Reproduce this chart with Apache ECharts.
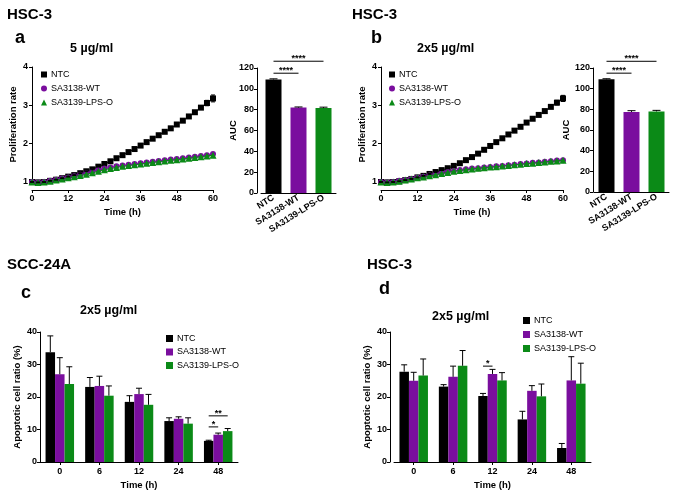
<!DOCTYPE html>
<html>
<head>
<meta charset="utf-8">
<script src="https://cdn.jsdelivr.net/npm/echarts@6/dist/echarts.min.js"></script>
<style>
html,body{margin:0;padding:0;background:#fff}
#chart{width:685px;height:501px}
</style>
</head>
<body>
<div id="chart"></div>
<script>
// colours
var cNTC = '#000000';
var cWT = '#7a0e9e';
var cLPS = '#0b8a17';
var font = 'Liberation Sans, Arial, sans-serif';

// proliferation, time in hours
var hours = [0,2,4,6,8,10,12,14,16,18,20,22,24,26,28,30,32,34,36,38,40,42,44,46,48,50,52,54,56,58,60];
var ntcA = [1.00,0.99,1.00,1.03,1.06,1.10,1.14,1.18,1.23,1.28,1.33,1.40,1.47,1.54,1.62,1.70,1.78,1.86,1.95,2.04,2.13,2.22,2.31,2.40,2.50,2.60,2.71,2.82,2.94,3.06,3.18];
var ntcAErr = [0.01,0.01,0.01,0.01,0.01,0.01,0.01,0.01,0.01,0.01,0.01,0.01,0.02,0.02,0.02,0.02,0.02,0.02,0.02,0.02,0.02,0.03,0.03,0.03,0.03,0.03,0.03,0.04,0.04,0.07,0.09];
var wtA = [1.00,0.99,1.00,1.03,1.06,1.09,1.12,1.15,1.19,1.23,1.27,1.31,1.35,1.38,1.41,1.43,1.45,1.47,1.49,1.51,1.53,1.55,1.57,1.59,1.60,1.62,1.64,1.66,1.68,1.70,1.73];
var lpsA = [1.00,0.99,1.00,1.02,1.05,1.08,1.11,1.14,1.17,1.20,1.24,1.28,1.32,1.35,1.38,1.41,1.43,1.45,1.47,1.49,1.51,1.53,1.55,1.57,1.58,1.60,1.62,1.64,1.66,1.68,1.70];

var ntcB = [1.00,0.99,1.00,1.02,1.05,1.08,1.12,1.16,1.21,1.26,1.31,1.36,1.42,1.49,1.57,1.65,1.74,1.84,1.94,2.04,2.14,2.24,2.34,2.44,2.55,2.65,2.75,2.85,2.96,3.07,3.18];
var ntcBErr = [0.01,0.01,0.01,0.01,0.01,0.01,0.01,0.01,0.01,0.01,0.01,0.01,0.02,0.02,0.02,0.02,0.02,0.02,0.02,0.02,0.02,0.03,0.03,0.03,0.03,0.03,0.03,0.04,0.04,0.06,0.08];
var wtB = [1.00,0.99,1.00,1.03,1.05,1.08,1.11,1.14,1.17,1.20,1.23,1.26,1.29,1.31,1.33,1.35,1.36,1.38,1.39,1.41,1.42,1.44,1.45,1.47,1.48,1.50,1.51,1.53,1.54,1.56,1.57];
var lpsB = [1.00,0.99,1.00,1.02,1.05,1.08,1.11,1.13,1.16,1.19,1.22,1.25,1.28,1.30,1.32,1.34,1.36,1.37,1.39,1.40,1.42,1.43,1.45,1.46,1.48,1.49,1.51,1.52,1.54,1.55,1.57];

// AUC
var groups = ['NTC', 'SA3138-WT', 'SA3139-LPS-O'];
var aucA = [109, 82, 81.5];
var aucAErr = [0.6, 0.6, 0.9];
var aucB = [109, 77.5, 78];
var aucBErr = [0.6, 1.2, 1.0];

// apoptosis
var times = ['0', '6', '12', '24', '48'];
var ntcC = [33.8, 23.1, 18.5, 12.6, 6.5];
var ntcCErr = [5.0, 2.9, 1.9, 1.0, 0.2];
var wtC = [27.0, 23.4, 20.9, 13.3, 8.4];
var wtCErr = [5.1, 3.0, 1.8, 0.6, 0.5];
var lpsC = [24.0, 20.4, 17.6, 11.8, 9.5];
var lpsCErr = [5.3, 3.0, 3.2, 1.8, 0.8];

var ntcD = [27.8, 23.2, 20.3, 13.1, 4.3];
var ntcDErr = [2.1, 0.6, 0.8, 2.5, 1.4];
var wtD = [25.0, 26.2, 27.1, 21.9, 25.1];
var wtDErr = [2.6, 3.3, 1.4, 1.6, 7.3];
var lpsD = [26.6, 29.6, 25.1, 20.2, 24.1];
var lpsDErr = [5.1, 4.7, 2.4, 3.8, 6.3];

// brackets: [cat1, bar1, cat2, bar2, y], stars
var bracketsA = [[0,0,1,0,115], [0,0,2,0,126.5]];
var starsA = ['****', '****'];
var bracketsB = [[0,0,1,0,115], [0,0,2,0,126.5]];
var starsB = ['****', '****'];
var bracketsC = [[4,-1,4,0,10.8], [4,-1,4,1,14.2]];
var starsC = ['*', '**'];
var bracketsD = [[2,-1,2,0,29.5]];
var starsD = ['*'];

function zip3(a, b, c) {
	var out = [];
	for (var i = 0; i < a.length; i++) out.push([a[i], b[i], c[i]]);
	return out;
}
function zipCat(v, e) {
	var out = [];
	for (var i = 0; i < v.length; i++) out.push([i, v[i], e[i]]);
	return out;
}

// up+down error bar on value axis
function lineErr(params, api) {
	var x = api.value(0), v = api.value(1), e = api.value(2);
	var t = api.coord([x, v + e]), b = api.coord([x, v - e]);
	var w = 2;
	return {
		type: 'group',
		children: [
			{type: 'line', shape: {x1: t[0], y1: t[1], x2: b[0], y2: b[1]}, style: {stroke: '#000', lineWidth: 1}},
			{type: 'line', shape: {x1: t[0] - w, y1: t[1], x2: t[0] + w, y2: t[1]}, style: {stroke: '#000', lineWidth: 1}},
			{type: 'line', shape: {x1: b[0] - w, y1: b[1], x2: b[0] + w, y2: b[1]}, style: {stroke: '#000', lineWidth: 1}}
		]
	};
}

// upward error bar on grouped bars, offset in px from category centre
function barErr(offset, cap) {
	return function(params, api) {
		var c = api.value(0), v = api.value(1), e = api.value(2);
		var t = api.coord([c, v + e]), b = api.coord([c, v]);
		var x = t[0] + offset;
		return {
			type: 'group',
			children: [
				{type: 'line', shape: {x1: x, y1: t[1], x2: x, y2: b[1]}, style: {stroke: '#000', lineWidth: 1}},
				{type: 'line', shape: {x1: x - cap, y1: t[1], x2: x + cap, y2: t[1]}, style: {stroke: '#000', lineWidth: 1}}
			]
		};
	};
}

function bracket(stars, bw) {
	return function(params, api) {
		var c1 = api.value(0), o1 = api.value(1), c2 = api.value(2), o2 = api.value(3), y = api.value(4);
		var p1 = api.coord([c1, y]), p2 = api.coord([c2, y]);
		var x1 = p1[0] + o1 * bw, x2 = p2[0] + o2 * bw;
		return {
			type: 'group',
			children: [
				{type: 'line', shape: {x1: x1, y1: p1[1], x2: x2, y2: p1[1]}, style: {stroke: '#000', lineWidth: 1}},
				{type: 'text', style: {text: stars[params.dataIndex], x: (x1 + x2) / 2, y: p1[1] + 2,
					textAlign: 'center', textVerticalAlign: 'bottom', font: 'bold 9px ' + font, fill: '#000'}}
			]
		};
	};
}

function bracketData(list) {
	return list.map(function(r) { return r.slice(); });
}

var labelStyle = {color: '#000', fontSize: 9, fontWeight: 'bold', fontFamily: font};
var nameStyle = {color: '#000', fontSize: 9.5, fontWeight: 'bold', fontFamily: font};
var axisLine = {show: true, lineStyle: {color: '#000', width: 1}};
var axisTick = {show: true, length: 3, lineStyle: {color: '#000'}};

function timeAxis(g) {
	return {
		type: 'value', gridIndex: g, min: 0, max: 60, interval: 12, offset: 8,
		axisLine: axisLine, axisTick: axisTick, splitLine: {show: false},
		axisLabel: Object.assign({margin: 4}, labelStyle),
		name: 'Time (h)', nameLocation: 'middle', nameGap: 17, nameTextStyle: nameStyle
	};
}
function prolifAxis(g) {
	return {
		type: 'value', gridIndex: g, min: 1, max: 4, interval: 1,
		axisLine: axisLine, axisTick: axisTick, splitLine: {show: false},
		axisLabel: Object.assign({margin: 4}, labelStyle),
		name: 'Proliferation rate', nameLocation: 'middle', nameGap: 14, nameTextStyle: nameStyle
	};
}
function groupAxis(g) {
	return {
		type: 'category', gridIndex: g, data: groups,
		axisLine: axisLine, axisTick: {show: false},
		axisLabel: Object.assign({rotate: 32, margin: 4, interval: 0}, labelStyle)
	};
}
function aucAxis(g, off, gap, moveOverlap) {
	return {
		type: 'value', gridIndex: g, min: 0, max: 120, interval: 20, offset: off,
		axisLine: axisLine, axisTick: axisTick, splitLine: {show: false},
		axisLabel: Object.assign({margin: 3}, labelStyle),
		name: 'AUC', nameLocation: 'middle', nameGap: gap, nameMoveOverlap: moveOverlap,
		nameTextStyle: nameStyle
	};
}
function timeCatAxis(g) {
	return {
		type: 'category', gridIndex: g, data: times,
		axisLine: axisLine, axisTick: {show: true, length: 3, alignWithLabel: true, lineStyle: {color: '#000'}},
		axisLabel: Object.assign({margin: 5}, labelStyle),
		name: 'Time (h)', nameLocation: 'middle', nameGap: 18, nameTextStyle: nameStyle
	};
}
function apoAxis(g, off) {
	return {
		type: 'value', gridIndex: g, min: 0, max: 40, interval: 10, offset: off,
		axisLine: axisLine, axisTick: axisTick, splitLine: {show: false},
		axisLabel: Object.assign({margin: 3}, labelStyle),
		name: 'Apoptotic cell ratio (%)', nameLocation: 'middle', nameGap: 18, nameTextStyle: nameStyle
	};
}

function lineSeries(name, g, vals, color, symbol, z) {
	var d = [];
	for (var i = 0; i < hours.length; i++) d.push([hours[i], vals[i]]);
	return {
		name: name, type: 'line', xAxisIndex: g, yAxisIndex: g, data: d,
		symbol: symbol, symbolSize: symbol === 'triangle' ? 7 : 6, clip: false, z: z,
		lineStyle: {color: color, width: 1}, itemStyle: {color: color}
	};
}
function aucSeries(g, vals) {
	var cols = [cNTC, cWT, cLPS];
	return {
		type: 'bar', xAxisIndex: g, yAxisIndex: g, barWidth: 16,
		data: vals.map(function(v, i) { return {value: v, itemStyle: {color: cols[i]}}; })
	};
}
function apoBar(name, g, vals, color) {
	return {
		name: name, type: 'bar', xAxisIndex: g, yAxisIndex: g, data: vals,
		barWidth: 9.5, barGap: '0%', itemStyle: {color: color}
	};
}
function errSeries(g, data, fn) {
	return {type: 'custom', xAxisIndex: g, yAxisIndex: g, data: data, renderItem: fn, z: 5, silent: true};
}

function title(text, left, top, size) {
	return {text: text, left: left, top: top, padding: 0,
		textStyle: {fontSize: size, fontWeight: 'bold', color: '#000', fontFamily: font}};
}

var lineLegendData = [
	{name: 'NTC', icon: 'rect'},
	{name: 'SA3138-WT', icon: 'circle'},
	{name: 'SA3139-LPS-O', icon: 'triangle'}
];
var barLegendData = [
	{name: 'NTC', icon: 'rect'},
	{name: 'SA3138-WT', icon: 'rect'},
	{name: 'SA3139-LPS-O', icon: 'rect'}
];
function legend(data, left, top, size, gap) {
	return {
		orient: 'vertical', left: left, top: top, padding: 0, itemGap: gap,
		itemWidth: size, itemHeight: size, data: data, selectedMode: false,
		textStyle: {fontSize: 9, color: '#000', fontFamily: font, padding: [0, 0, 0, -1]}
	};
}

var option = {
	animation: false,
	backgroundColor: '#fff',
	textStyle: {fontFamily: font},
	title: [
		title('HSC-3', 7, 7, 15),
		title('a', 15, 29, 18),
		title('5 µg/ml', 70, 42, 12.5),
		title('HSC-3', 352, 7, 15),
		title('b', 371, 29, 18),
		title('2x5 µg/ml', 417, 42, 12.5),
		title('SCC-24A', 7, 257, 15),
		title('c', 21, 284, 18),
		title('2x5 µg/ml', 80, 304, 12.5),
		title('HSC-3', 367, 257, 15),
		title('d', 379, 280, 18),
		title('2x5 µg/ml', 432, 310, 12.5)
	],
	legend: [
		legend(lineLegendData, 41, 70, 6, 5),
		legend(lineLegendData, 389, 70, 6, 5),
		legend(barLegendData, 166, 334, 7, 4.5),
		legend(barLegendData, 523, 316, 7, 5)
	],
	grid: [
		{left: 32, top: 67, width: 181, height: 115},
		{left: 261, top: 68, width: 75, height: 125},
		{left: 381, top: 67, width: 182, height: 115},
		{left: 594, top: 68, width: 75, height: 124},
		{left: 40, top: 332, width: 198, height: 130},
		{left: 394, top: 332, width: 197, height: 130}
	],
	xAxis: [timeAxis(0), groupAxis(1), timeAxis(2), groupAxis(3), timeCatAxis(4), timeCatAxis(5)],
	yAxis: [prolifAxis(0), aucAxis(1, 4, 19, false), prolifAxis(2), aucAxis(3, 1, 19, true), apoAxis(4, 0), apoAxis(5, 4)],
	series: [
		lineSeries('NTC', 0, ntcA, cNTC, 'rect', 3),
		lineSeries('SA3138-WT', 0, wtA, cWT, 'circle', 3),
		lineSeries('SA3139-LPS-O', 0, lpsA, cLPS, 'triangle', 4),
		errSeries(0, zip3(hours, ntcA, ntcAErr), lineErr),
		lineSeries('NTC', 2, ntcB, cNTC, 'rect', 3),
		lineSeries('SA3138-WT', 2, wtB, cWT, 'circle', 3),
		lineSeries('SA3139-LPS-O', 2, lpsB, cLPS, 'triangle', 4),
		errSeries(2, zip3(hours, ntcB, ntcBErr), lineErr),

		aucSeries(1, aucA),
		errSeries(1, zipCat(aucA, aucAErr), barErr(0, 4)),
		errSeries(1, bracketData(bracketsA), bracket(starsA, 25)),
		aucSeries(3, aucB),
		errSeries(3, zipCat(aucB, aucBErr), barErr(0, 4)),
		errSeries(3, bracketData(bracketsB), bracket(starsB, 25)),

		apoBar('NTC', 4, ntcC, cNTC),
		apoBar('SA3138-WT', 4, wtC, cWT),
		apoBar('SA3139-LPS-O', 4, lpsC, cLPS),
		errSeries(4, zipCat(ntcC, ntcCErr), barErr(-9.5, 3)),
		errSeries(4, zipCat(wtC, wtCErr), barErr(0, 3)),
		errSeries(4, zipCat(lpsC, lpsCErr), barErr(9.5, 3)),
		errSeries(4, bracketData(bracketsC), bracket(starsC, 9.5)),

		apoBar('NTC', 5, ntcD, cNTC),
		apoBar('SA3138-WT', 5, wtD, cWT),
		apoBar('SA3139-LPS-O', 5, lpsD, cLPS),
		errSeries(5, zipCat(ntcD, ntcDErr), barErr(-9.5, 3)),
		errSeries(5, zipCat(wtD, wtDErr), barErr(0, 3)),
		errSeries(5, zipCat(lpsD, lpsDErr), barErr(9.5, 3)),
		errSeries(5, bracketData(bracketsD), bracket(starsD, 9.5))
	]
};

var mychart = echarts.init(document.getElementById('chart'), null, {renderer: 'canvas'});
mychart.setOption(option);
</script>
</body>
</html>
